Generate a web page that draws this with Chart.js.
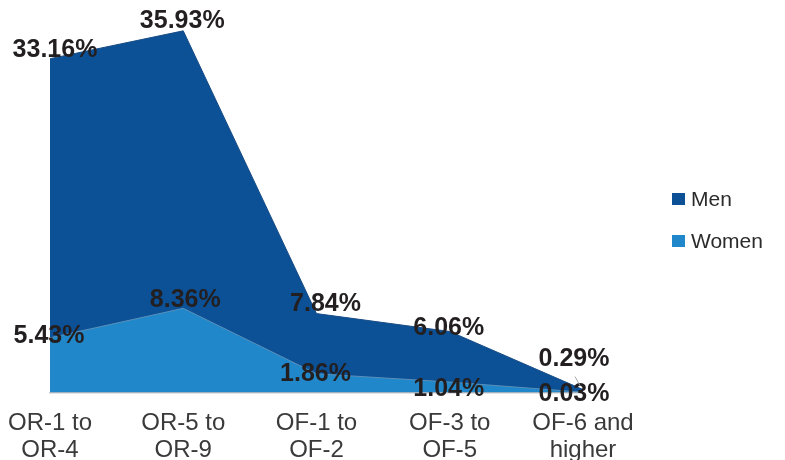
<!DOCTYPE html>
<html>
<head>
<meta charset="utf-8">
<script src="https://cdn.jsdelivr.net/npm/chart.js@4.4.1/dist/chart.umd.min.js"></script>
<style>
  html, body { margin: 0; padding: 0; background: #ffffff; }
  #wrap { width: 785px; height: 460px; position: relative; overflow: hidden; }
</style>
</head>
<body>
<div id="wrap"><canvas id="c" width="785" height="460"></canvas></div>
<script>
const categories = [["OR-1 to", "OR-4"], ["OR-5 to", "OR-9"], ["OF-1 to", "OF-2"], ["OF-3 to", "OF-5"], ["OF-6 and", "higher"]];
const seriesNames = ["Men", "Women"];
const menValues = [33.16, 35.93, 7.84, 6.06, 0.29];
const womenValues = [5.43, 8.36, 1.86, 1.04, 0.03];

// label offsets (pixels) relative to each point: [dx, dy] of the text centre
const menLabelOffsets = [[5, -9], [-1, -10], [9, -9], [-1, -3], [-9, -30]];
const womenLabelOffsets = [[-1, -2], [2, -8], [-1, 0], [-1, 7], [-9, 2]];

const MEN_COLOR = '#0c5096';
const WOMEN_COLOR = '#2088ca';

const labelPlugin = {
  id: 'labels',
  afterDatasetsDraw(chart) {
    const ctx = chart.ctx;
    ctx.save();
    ctx.font = 'bold 25px "Liberation Sans", Arial, sans-serif';
    ctx.fillStyle = '#231f20';
    ctx.textAlign = 'center';
    ctx.textBaseline = 'middle';
    const sets = [
      { idx: 0, vals: menValues, offs: menLabelOffsets },
      { idx: 1, vals: womenValues, offs: womenLabelOffsets }
    ];
    sets.forEach(s => {
      const meta = chart.getDatasetMeta(s.idx);
      meta.data.forEach((pt, i) => {
        const o = s.offs[i];
        ctx.fillText(s.vals[i].toFixed(2) + '%', pt.x + o[0], pt.y + o[1]);
      });
    });
    // leader line for last Men label
    const last = chart.getDatasetMeta(0).data[4];
    ctx.strokeStyle = '#a6a6a6';
    ctx.lineWidth = 1;
    ctx.beginPath();
    ctx.moveTo(last.x - 8, last.y - 13);
    ctx.lineTo(last.x - 3, last.y - 4);
    ctx.stroke();

    // legend
    const legendColors = [MEN_COLOR, WOMEN_COLOR];
    const legendY = [199, 241];
    ctx.font = '21px "Liberation Sans", Arial, sans-serif';
    ctx.textAlign = 'left';
    ctx.textBaseline = 'middle';
    seriesNames.forEach((n, i) => {
      ctx.fillStyle = legendColors[i];
      ctx.fillRect(672, legendY[i] - 6, 13, 12);
      ctx.fillStyle = '#2b2b2b';
      ctx.fillText(n, 691, legendY[i] + 1);
    });
    ctx.restore();
  }
};

new Chart(document.getElementById('c'), {
  type: 'line',
  data: {
    labels: categories,
    datasets: [
      {
        label: seriesNames[0],
        data: menValues,
        backgroundColor: MEN_COLOR,
        borderColor: '#1a4d85',
        borderWidth: 1,
        fill: 'origin',
        tension: 0,
        pointRadius: 0,
        order: 1
      },
      {
        label: seriesNames[1],
        data: womenValues,
        backgroundColor: WOMEN_COLOR,
        borderColor: '#5a8fb8',
        borderWidth: 1,
        fill: 'origin',
        tension: 0,
        pointRadius: 0,
        order: 0
      }
    ]
  },
  options: {
    responsive: false,
    animation: false,
    layout: { padding: { left: 50, right: 202, top: 10, bottom: 0 } },
    plugins: { legend: { display: false }, tooltip: { enabled: false } },
    scales: {
      x: {
        offset: false,
        grid: { display: false, drawTicks: false },
        border: { display: true, color: '#c8c8c8', width: 1.5 },
        ticks: {
          color: '#3a3a3a',
          font: { family: '"Liberation Sans", Arial, sans-serif', size: 24, lineHeight: 1.13 },
          padding: 17,
          maxRotation: 0,
          autoSkip: false
        },
        afterFit(s) { s.paddingLeft = 0; s.paddingRight = 0; s.height = 67.5; }
      },
      y: {
        display: false,
        min: 0,
        max: 38
      }
    }
  },
  plugins: [labelPlugin]
});
</script>
</body>
</html>
